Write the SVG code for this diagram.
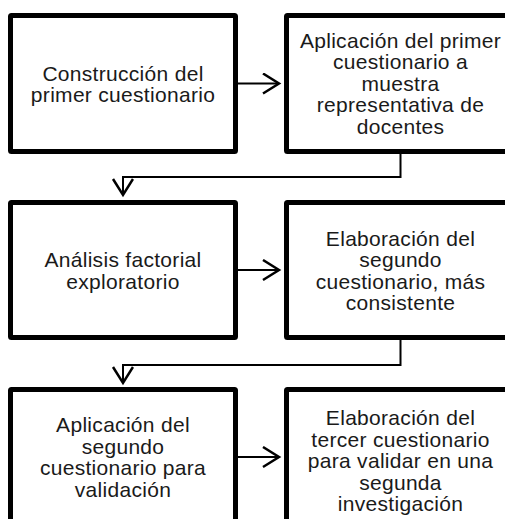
<svg xmlns="http://www.w3.org/2000/svg" width="505" height="519" viewBox="0 0 505 519">
<style>
.box{fill:#fff;stroke:#000;stroke-width:5}
.t{font-family:"Liberation Sans",Arial,sans-serif;font-size:21px;fill:#1a1a1a;text-anchor:middle;letter-spacing:0.3px}
.c{fill:none;stroke:#000;stroke-width:2}
</style>
<defs>
<marker id="ah" markerUnits="userSpaceOnUse" markerWidth="22" markerHeight="26" refX="17" refY="11" orient="auto" viewBox="0 0 22 26">
<path d="M1,1 L17,11 L1,21" fill="none" stroke="#000" stroke-width="2.5"/>
</marker>
</defs>
<rect width="505" height="519" fill="#fff"/>
<g id="n1"><rect class="box" x="10.5" y="15.5" width="225" height="136" rx="1"/>
<text class="t"><tspan x="123" y="80.5">Construcción del</tspan><tspan x="123" y="102">primer cuestionario</tspan></text></g>
<g id="n2"><rect class="box" x="286.5" y="15.5" width="225" height="136" rx="1"/>
<text class="t"><tspan x="400.5" y="47.5">Aplicación del primer</tspan><tspan x="400.5" y="69">cuestionario a</tspan><tspan x="400.5" y="90.5">muestra</tspan><tspan x="400.5" y="112">representativa de</tspan><tspan x="400.5" y="133.5">docentes</tspan></text></g>
<g id="n3"><rect class="box" x="10.5" y="202.5" width="225" height="135" rx="1"/>
<text class="t"><tspan x="123" y="267">Análisis factorial</tspan><tspan x="123" y="288.5">exploratorio</tspan></text></g>
<g id="n4"><rect class="box" x="286.5" y="202.5" width="225" height="135" rx="1"/>
<text class="t"><tspan x="400.5" y="245.5">Elaboración del</tspan><tspan x="400.5" y="267">segundo</tspan><tspan x="400.5" y="288.5">cuestionario, más</tspan><tspan x="400.5" y="310">consistente</tspan></text></g>
<g id="n5"><rect class="box" x="10.5" y="389.5" width="225" height="136" rx="1"/>
<text class="t"><tspan x="123" y="432">Aplicación del</tspan><tspan x="123" y="453.5">segundo</tspan><tspan x="123" y="475">cuestionario para</tspan><tspan x="123" y="496.5">validación</tspan></text></g>
<g id="n6"><rect class="box" x="286.5" y="389.5" width="225" height="136" rx="1"/>
<text class="t"><tspan x="400.5" y="425">Elaboración del</tspan><tspan x="400.5" y="446.5">tercer cuestionario</tspan><tspan x="400.5" y="468">para validar en una</tspan><tspan x="400.5" y="489.5">segunda</tspan><tspan x="400.5" y="511">investigación</tspan></text></g>
<g id="connectors">
<path class="c" d="M238,83.5 H279" marker-end="url(#ah)"/>
<path class="c" d="M400.5,154 V177 H123 V195" marker-end="url(#ah)"/>
<path class="c" d="M238,270 H279" marker-end="url(#ah)"/>
<path class="c" d="M400.5,340 V365 H123 V383" marker-end="url(#ah)"/>
<path class="c" d="M238,457 H279" marker-end="url(#ah)"/>
</g>
</svg>
